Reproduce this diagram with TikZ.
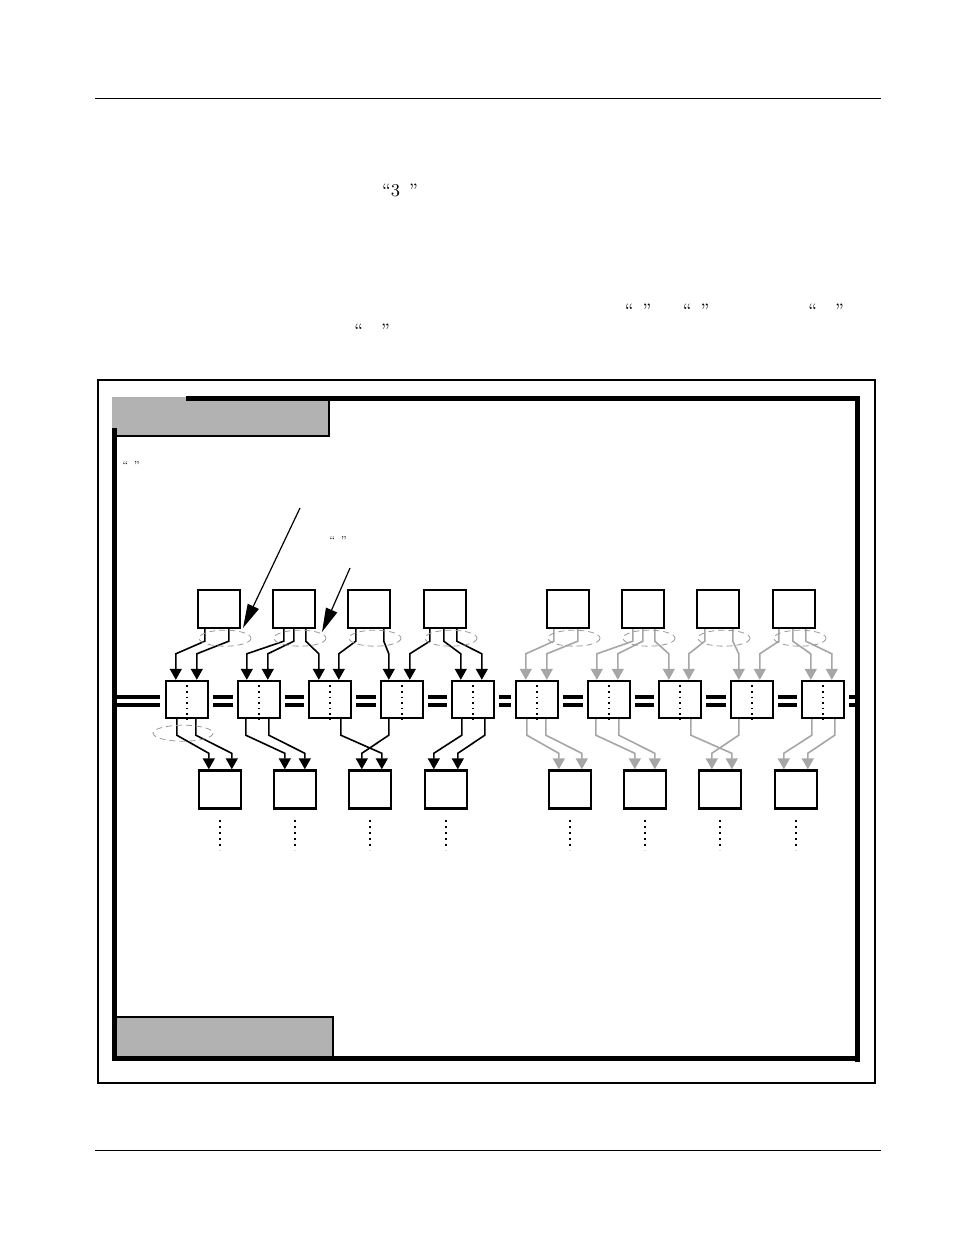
\documentclass[tikz,border=0pt]{standalone}
\usepackage{tikz}
\usetikzlibrary{positioning,calc,arrows.meta}
\tikzset{%
	unit/.style = {draw, very thick, rectangle, fill=white, minimum width=21pt, minimum height=19pt, inner sep=0pt},
	hub/.style  = {unit, minimum height=18.5pt},
	wire/.style = {thick, -{Triangle[width=6pt,length=5.5pt]}},
	bus/.style  = {line width=2pt},
	band/.style = {line width=2.5pt}
}
% wire: colour, source, dx, target, dx, drop, rise
\newcommand\wire[7]{\draw[wire,#1] ($(#2.south west)+(#3,0)$) -- ++(0,#6) -- ($(#4.north west)+(#5,-#7)$) -- ($(#4.north west)+(#5,0)$);}

\begin{document}
\begin{tikzpicture}[x=0.5pt,y=-0.5pt]
	\useasboundingbox (0,0) rectangle (954,1235);
	% page rules and stray text
	\draw[thin] (95,98) -- (881,98);
	\draw[thin] (95,1150) -- (881,1150);
	\node[font=\small] (q1) at (400,190) {``3\enspace''};
	\node[font=\small] (q2) at (638,310) {``\enspace''};
	\node[font=\small] (q3) at (696,310) {``\enspace''};
	\node[font=\small] (q4) at (826,310) {``\enspace\enspace''};
	\node[font=\small] (q5) at (372,330) {``\enspace\enspace''};
	% frames
	\draw[semithick] (98,380) rectangle (875,1083);
	\fill[black!30] (112,397) rectangle (329,436);
	\fill[black!30] (114,1017) rectangle (333,1060);
	\draw[band] (186,398) -- (857,398) -- (857,1062);
	\draw[band] (114,428) -- (114,1058) -- (242,1058);
	\draw[band] (242,1058) -- (857,1058);
	\draw[semithick] (112,436) -- (329,436) -- (329,398);
	\draw[semithick] (114,1017) -- (333,1017) -- (333,1060);
	\node[font=\tiny] (q6) at (131,465) {``\enspace''};
	\node[font=\tiny] (q7) at (338,540) {``\enspace''};
	\coordinate (p1) at (300,508);
	\coordinate (p2) at (350,568);
	\coordinate (h1) at (243,628);
	\coordinate (h2) at (322,632);
	\draw[semithick,-{Triangle[width=6pt,length=12pt]}] (p1) -- (h1);
	\draw[semithick,-{Triangle[width=6pt,length=12pt]}] (p2) -- (h2);
	% units
	\foreach \g/\c in {0/black,1/black!35} {
		\foreach \x [count=\i] in {219,294,369,445} {
			\node[unit] (t\g\i) at (\x+349*\g,609) {};
			\node[unit] (b\g\i) at (\x+350*\g+1,789.5) {};
			\draw[dotted, line width=1pt] (\x+350*\g+1,820) -- (\x+350*\g+1,850);
		}
		\foreach \x [count=\i] in {187,259,330,402,473} {
			\node[hub] (m\g\i) at (\x+350*\g,699.5) {};
			\draw[dotted, thick] (m\g\i.north) -- (m\g\i.south);
		}
		\wire{\c}{t\g1}{8}{m\g1}{11}{12}{26}
		\wire{\c}{t\g1}{32}{m\g1}{32}{12}{26}
		\wire{\c}{t\g2}{12}{m\g2}{10}{12}{26}
		\wire{\c}{t\g2}{22}{m\g2}{31}{12}{26}
		\wire{\c}{t\g2}{34}{m\g3}{11}{12}{26}
		\wire{\c}{t\g3}{9}{m\g3}{31}{12}{26}
		\wire{\c}{t\g3}{37}{m\g4}{9}{12}{26}
		\wire{\c}{t\g4}{7}{m\g4}{30}{12}{26}
		\wire{\c}{t\g4}{21}{m\g5}{10}{12}{26}
		\wire{\c}{t\g4}{34}{m\g5}{31}{12}{26}
		\wire{\c}{m\g1}{12}{b\g1}{11}{16}{16}
		\wire{\c}{m\g1}{31}{b\g1}{34}{16}{16}
		\wire{\c}{m\g2}{9}{b\g2}{12}{16}{16}
		\wire{\c}{m\g2}{32}{b\g2}{32}{16}{16}
		\wire{\c}{m\g3}{33}{b\g3}{34}{16}{16}
		\wire{\c}{m\g4}{9}{b\g3}{14}{16}{16}
		\wire{\c}{m\g5}{11}{b\g4}{10}{16}{16}
		\wire{\c}{m\g5}{34}{b\g4}{34}{16}{16}
		% dashed groupings
		\foreach \i in {1,...,4} {
			\draw[densely dashed, black!40, thin] ($(t\g\i.south)+(6,9)$) ellipse (26 and 8);
		}
	}
	\draw[densely dashed, black!40, thin] ($(m01.south)+(-4,14)$) ellipse (30 and 8);
	% bus
	\foreach \d/\y in {-2.5/697,5.5/705} {
		\draw[bus] (114,\y) -- ($(m01.west)+(-5,\d)$);
		\draw[bus] ($(m15.east)+(4,\d)$) -- (857,\y);
		\foreach \a/\b in {m01/m02,m02/m03,m03/m04,m04/m05,m05/m11,m11/m12,m12/m13,m13/m14,m14/m15}
			\draw[bus] ($(\a.east)+(4,\d)$) -- ($(\b.west)+(-4,\d)$);
	}
\end{tikzpicture}
\end{document}
